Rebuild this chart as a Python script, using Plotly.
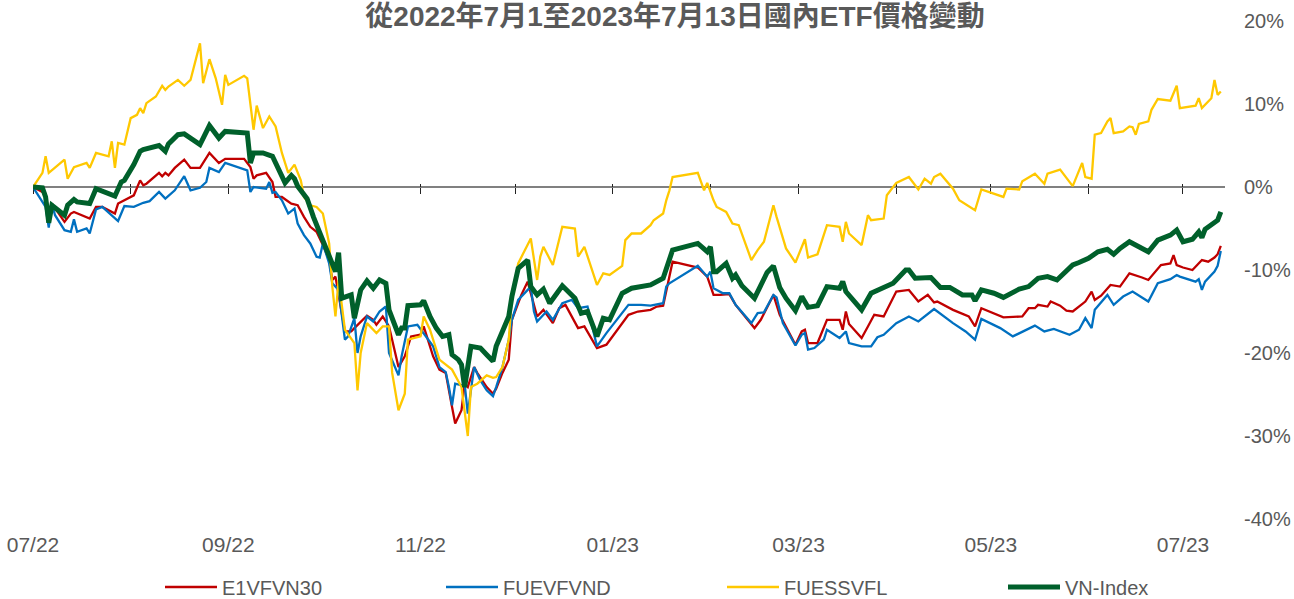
import plotly.graph_objects as go

TITLE = "從2022年7月1至2023年7月13日國內ETF價格變動"
SERIES_NAMES = ["E1VFVN30", "FUEVFVND", "FUESSVFL", "VN-Index"]
X_START = "2022-07-01"
X_END = "2023-07-14 08:00"
Y_TICK_VALS = [20, 10, 0, -10, -20, -30, -40]

E1VFVN30_DATES = [
    "2022-07-01", "2022-07-05", "2022-07-06", "2022-07-07", "2022-07-11", "2022-07-13", "2022-07-14", "2022-07-19",
    "2022-07-21", "2022-07-23", "2022-07-27", "2022-07-28",
    "2022-08-02", "2022-08-03", "2022-08-04", "2022-08-05", "2022-08-06", "2022-08-10", "2022-08-11", "2022-08-12",
    "2022-08-13", "2022-08-15", "2022-08-18", "2022-08-20", "2022-08-23", "2022-08-26", "2022-08-29", "2022-08-31",
    "2022-09-06", "2022-09-08", "2022-09-09", "2022-09-10", "2022-09-13", "2022-09-15", "2022-09-16", "2022-09-18",
    "2022-09-21", "2022-09-23", "2022-09-25", "2022-09-27", "2022-09-29",
    "2022-10-01", "2022-10-03", "2022-10-04", "2022-10-05", "2022-10-08", "2022-10-10", "2022-10-11", "2022-10-15",
    "2022-10-17", "2022-10-18", "2022-10-20", "2022-10-22", "2022-10-25", "2022-10-27", "2022-10-29",
    "2022-11-01", "2022-11-02", "2022-11-05", "2022-11-07", "2022-11-09", "2022-11-11", "2022-11-12", "2022-11-14",
    "2022-11-15", "2022-11-16", "2022-11-18", "2022-11-19", "2022-11-22", "2022-11-24", "2022-11-25", "2022-11-27",
    "2022-11-29", "2022-11-30",
    "2022-12-03", "2022-12-05", "2022-12-07", "2022-12-08", "2022-12-10", "2022-12-13", "2022-12-15", "2022-12-17",
    "2022-12-21", "2022-12-23", "2022-12-27", "2022-12-30",
    "2023-01-06", "2023-01-09", "2023-01-13", "2023-01-15", "2023-01-17", "2023-01-19", "2023-01-20", "2023-01-28",
    "2023-01-31",
    "2023-02-02", "2023-02-04", "2023-02-07", "2023-02-09", "2023-02-12", "2023-02-15", "2023-02-17", "2023-02-19",
    "2023-02-21", "2023-02-23", "2023-02-25", "2023-02-28",
    "2023-03-02", "2023-03-03", "2023-03-04", "2023-03-07", "2023-03-10", "2023-03-14", "2023-03-15", "2023-03-16",
    "2023-03-17", "2023-03-21", "2023-03-23", "2023-03-25", "2023-03-28",
    "2023-04-01", "2023-04-05", "2023-04-08", "2023-04-11", "2023-04-13", "2023-04-14", "2023-04-19", "2023-04-24",
    "2023-04-26", "2023-04-28",
    "2023-05-05", "2023-05-11", "2023-05-13", "2023-05-15", "2023-05-16", "2023-05-19", "2023-05-20", "2023-05-23",
    "2023-05-25", "2023-05-27", "2023-05-29", "2023-05-31",
    "2023-06-02", "2023-06-03", "2023-06-05", "2023-06-08", "2023-06-11", "2023-06-14", "2023-06-18", "2023-06-20",
    "2023-06-24", "2023-06-27", "2023-06-28", "2023-06-29",
    "2023-07-01", "2023-07-04", "2023-07-07", "2023-07-09", "2023-07-11", "2023-07-12", "2023-07-13",
]
E1VFVN30_VALUES = [
    0.0, -0.8, -3.2, -2.0, -4.2, -3.2, -3.0, -3.8, -2.4, -2.4, -3.2, -2.0,
    -1.0, -0.2, 0.8, 0.2, 0.4, 1.7, 1.3, 1.7, 1.4, 2.3, 3.3, 2.3, 2.3, 4.1, 2.9, 3.4,
    3.4, 2.4, 1.0, 1.4, 1.7, 0.6, -1.2, -1.2, -2.0, -2.2, -3.6, -4.8, -5.4,
    -7.0, -8.8, -11.2, -10.8, -17.4, -17.4, -17.0, -15.5, -16.0, -16.6, -15.6, -16.8, -21.7, -20.4, -18.0,
    -17.8, -16.8, -20.4, -22.0, -22.4, -26.5, -28.5, -26.9, -23.7, -24.1, -21.7, -22.4, -24.1, -24.9, -24.3,
    -22.4, -20.8, -16.0,
    -13.0, -11.4, -14.0, -15.6, -14.8, -16.4, -14.6, -14.2, -17.0, -16.8, -19.4, -19.0,
    -15.4, -15.0, -14.8, -14.4, -14.3, -11.0, -9.0, -9.7, -10.8,
    -13.0, -13.0, -12.9, -14.2, -15.6, -17.0, -16.0, -14.4, -13.0, -15.4, -16.8, -19.0,
    -17.4, -17.2, -18.8, -18.8, -16.0, -16.0, -17.2, -15.0, -16.5, -18.2, -16.8, -15.4, -15.6,
    -12.6, -12.4, -13.8, -13.0, -13.9, -13.8, -14.8, -15.6, -16.8, -14.6,
    -15.7, -15.6, -14.6, -14.6, -14.2, -14.4, -13.8, -14.3, -14.9, -15.0, -14.4, -13.8,
    -12.6, -13.6, -13.1, -11.8, -12.0, -10.4, -10.9, -11.2, -9.4, -9.2, -8.2, -9.4,
    -9.7, -10.0, -8.8, -9.0, -8.5, -8.1, -7.1,
]

FUEVFVND_DATES = [
    "2022-07-01", "2022-07-05", "2022-07-06", "2022-07-07", "2022-07-08", "2022-07-11", "2022-07-13", "2022-07-14",
    "2022-07-15", "2022-07-18", "2022-07-19", "2022-07-21", "2022-07-23", "2022-07-28", "2022-07-30",
    "2022-08-02", "2022-08-05", "2022-08-07", "2022-08-10", "2022-08-12", "2022-08-15", "2022-08-18", "2022-08-20",
    "2022-08-23", "2022-08-25", "2022-08-26", "2022-08-29", "2022-08-31",
    "2022-09-07", "2022-09-08", "2022-09-09", "2022-09-13", "2022-09-14", "2022-09-15", "2022-09-16", "2022-09-18",
    "2022-09-20", "2022-09-22", "2022-09-23", "2022-09-25", "2022-09-27", "2022-09-29", "2022-09-30",
    "2022-10-01", "2022-10-03", "2022-10-04", "2022-10-06", "2022-10-08", "2022-10-09", "2022-10-11", "2022-10-12",
    "2022-10-13", "2022-10-15", "2022-10-17", "2022-10-19", "2022-10-21", "2022-10-22", "2022-10-25", "2022-10-26",
    "2022-10-28", "2022-10-31",
    "2022-11-02", "2022-11-05", "2022-11-07", "2022-11-09", "2022-11-10", "2022-11-11", "2022-11-12", "2022-11-14",
    "2022-11-15", "2022-11-16", "2022-11-18", "2022-11-20", "2022-11-22", "2022-11-24", "2022-11-25", "2022-11-27",
    "2022-11-29", "2022-11-30",
    "2022-12-02", "2022-12-06", "2022-12-07", "2022-12-08", "2022-12-11", "2022-12-13", "2022-12-16", "2022-12-19",
    "2022-12-21", "2022-12-24", "2022-12-27", "2022-12-30",
    "2023-01-06", "2023-01-10", "2023-01-13", "2023-01-17", "2023-01-18", "2023-01-19", "2023-01-28", "2023-01-31",
    "2023-02-01", "2023-02-02", "2023-02-05", "2023-02-07", "2023-02-09", "2023-02-12", "2023-02-14", "2023-02-16",
    "2023-02-18", "2023-02-21", "2023-02-22", "2023-02-24", "2023-02-28",
    "2023-03-02", "2023-03-03", "2023-03-04", "2023-03-06", "2023-03-09", "2023-03-10", "2023-03-14", "2023-03-16",
    "2023-03-17", "2023-03-21", "2023-03-24", "2023-03-26", "2023-03-28",
    "2023-04-01", "2023-04-05", "2023-04-08", "2023-04-13", "2023-04-19", "2023-04-23", "2023-04-26", "2023-04-28",
    "2023-05-04", "2023-05-08", "2023-05-11", "2023-05-15", "2023-05-18", "2023-05-21", "2023-05-26", "2023-05-29",
    "2023-05-31",
    "2023-06-02", "2023-06-03", "2023-06-07", "2023-06-09", "2023-06-12", "2023-06-15", "2023-06-20", "2023-06-23",
    "2023-06-27", "2023-06-29", "2023-06-30",
    "2023-07-05", "2023-07-06", "2023-07-07", "2023-07-08", "2023-07-11", "2023-07-12", "2023-07-13",
]
FUEVFVND_VALUES = [
    0.0, -2.4, -4.9, -2.0, -3.4, -5.2, -5.4, -3.9, -5.4, -5.0, -5.6, -2.7, -2.4, -4.1, -2.3,
    -2.4, -1.9, -1.7, -0.6, -1.4, -0.4, 1.3, -0.4, -0.1, 0.6, 2.3, 1.8, 2.9,
    2.0, -0.6, 0.0, -0.2, 0.6, -0.7, -0.6, -1.6, -3.2, -2.6, -4.4, -5.8, -6.8, -8.4, -8.5,
    -6.8, -9.2, -11.6, -12.4, -18.4, -18.0, -15.8, -20.0, -18.0, -15.6, -16.2, -15.0, -14.4, -20.0, -22.7, -20.4,
    -16.8, -16.6,
    -17.6, -19.2, -21.7, -22.3, -24.1, -26.3, -23.7, -23.9, -23.7, -27.3, -21.7, -23.3, -24.5, -25.2, -24.1, -21.7,
    -18.4, -16.0,
    -13.6, -12.0, -15.0, -16.2, -15.0, -16.0, -14.0, -13.6, -14.6, -14.4, -19.2, -17.6,
    -14.2, -14.2, -14.3, -14.0, -12.0, -11.6, -9.5, -10.8,
    -10.2, -12.2, -12.8, -12.8, -14.2, -15.6, -16.4, -15.2, -15.1, -13.0, -13.3, -16.4, -19.1,
    -17.8, -17.6, -19.6, -19.4, -18.4, -17.2, -18.2, -17.4, -18.8, -19.2, -19.2, -18.1, -17.8,
    -16.4, -15.6, -16.2, -14.7, -16.4, -17.4, -18.4, -15.9,
    -17.0, -18.0, -17.4, -16.7, -17.4, -17.1, -17.8, -17.2, -15.8,
    -17.0, -14.8, -13.0, -14.2, -13.2, -12.6, -13.8, -11.6, -11.1, -10.6, -10.8,
    -11.4, -11.1, -12.4, -11.4, -10.2, -9.5, -7.7,
]

FUESSVFL_DATES = [
    "2022-07-01", "2022-07-04", "2022-07-05", "2022-07-06", "2022-07-11", "2022-07-12", "2022-07-14", "2022-07-18",
    "2022-07-19", "2022-07-21", "2022-07-25", "2022-07-26", "2022-07-27", "2022-07-28", "2022-07-30",
    "2022-08-01", "2022-08-03", "2022-08-04", "2022-08-05", "2022-08-06", "2022-08-09", "2022-08-11", "2022-08-12",
    "2022-08-13", "2022-08-16", "2022-08-18", "2022-08-20", "2022-08-23", "2022-08-24", "2022-08-26", "2022-08-28",
    "2022-08-30", "2022-08-31",
    "2022-09-01", "2022-09-06", "2022-09-07", "2022-09-09", "2022-09-10", "2022-09-12", "2022-09-14", "2022-09-16",
    "2022-09-18", "2022-09-20", "2022-09-22", "2022-09-24", "2022-09-25", "2022-09-27", "2022-09-29",
    "2022-10-01", "2022-10-03", "2022-10-04", "2022-10-05", "2022-10-06", "2022-10-08", "2022-10-11", "2022-10-12",
    "2022-10-13", "2022-10-15", "2022-10-18", "2022-10-20", "2022-10-22", "2022-10-23", "2022-10-25", "2022-10-27",
    "2022-10-28", "2022-10-30",
    "2022-11-01", "2022-11-02", "2022-11-04", "2022-11-07", "2022-11-11", "2022-11-14", "2022-11-16", "2022-11-17",
    "2022-11-19", "2022-11-22", "2022-11-24", "2022-11-25", "2022-11-27", "2022-11-29", "2022-11-30",
    "2022-12-02", "2022-12-06", "2022-12-08", "2022-12-09", "2022-12-10", "2022-12-13", "2022-12-16", "2022-12-20",
    "2022-12-21", "2022-12-23", "2022-12-27", "2022-12-29", "2022-12-31",
    "2023-01-04", "2023-01-05", "2023-01-07", "2023-01-10", "2023-01-13", "2023-01-14", "2023-01-17", "2023-01-18",
    "2023-01-19", "2023-01-20", "2023-01-28", "2023-01-30", "2023-01-31",
    "2023-02-02", "2023-02-03", "2023-02-06", "2023-02-08", "2023-02-10", "2023-02-14", "2023-02-16", "2023-02-18",
    "2023-02-21", "2023-02-22", "2023-02-25", "2023-02-28",
    "2023-03-03", "2023-03-04", "2023-03-07", "2023-03-10", "2023-03-14", "2023-03-15", "2023-03-16", "2023-03-17",
    "2023-03-21", "2023-03-23", "2023-03-24", "2023-03-28", "2023-03-29",
    "2023-04-01", "2023-04-05", "2023-04-08", "2023-04-10", "2023-04-12", "2023-04-13", "2023-04-15", "2023-04-19",
    "2023-04-21", "2023-04-26", "2023-04-28",
    "2023-05-05", "2023-05-06", "2023-05-10", "2023-05-11", "2023-05-15", "2023-05-18", "2023-05-19", "2023-05-23",
    "2023-05-27", "2023-05-30", "2023-05-31",
    "2023-06-02", "2023-06-03", "2023-06-05", "2023-06-07", "2023-06-08", "2023-06-09", "2023-06-12", "2023-06-14",
    "2023-06-15", "2023-06-16", "2023-06-17", "2023-06-20", "2023-06-21", "2023-06-23", "2023-06-27", "2023-06-29",
    "2023-06-30",
    "2023-07-05", "2023-07-06", "2023-07-07", "2023-07-10", "2023-07-11", "2023-07-12", "2023-07-13",
]
FUESSVFL_VALUES = [
    0.0, 1.7, 3.7, 1.7, 3.3, 1.0, 2.4, 2.9, 2.3, 4.1, 3.7, 5.5, 2.3, 5.3, 5.1,
    8.3, 8.7, 9.5, 8.9, 10.1, 10.9, 12.2, 11.7, 12.1, 12.9, 12.2, 12.9, 17.3, 12.5, 15.4, 13.1, 9.9, 13.5,
    12.3, 13.4, 13.1, 6.9, 9.8, 7.1, 8.5, 7.3, 4.1, 1.7, 2.7, 0.8, -1.2, -2.2, -2.4,
    -3.2, -6.8, -12.0, -15.6, -11.2, -17.2, -18.8, -24.5, -20.0, -16.4, -17.6, -16.8, -16.8, -22.4, -26.9, -24.9,
    -18.4, -18.2,
    -18.0, -15.6, -17.2, -20.8, -22.0, -24.1, -30.0, -24.1, -23.7, -22.7, -23.0, -22.9, -21.7, -18.4, -13.2,
    -9.2, -6.2, -11.2, -8.4, -7.2, -9.4, -4.8, -5.0, -8.4, -7.2, -11.8, -10.4, -10.6,
    -9.5, -6.4, -5.6, -5.6, -4.6, -4.0, -3.2, -1.6, -0.4, 1.2, 1.7, -0.4, 0.5,
    -1.6, -2.4, -3.0, -4.4, -4.6, -8.8, -7.6, -6.6, -2.2, -3.6, -7.4, -9.1,
    -6.3, -8.5, -8.1, -4.6, -4.8, -6.6, -4.2, -5.6, -7.0, -3.4, -4.0, -3.8, -1.0,
    0.5, 1.2, -0.3, 1.0, 0.4, 1.2, 1.6, -0.2, -1.6, -2.8, -0.3,
    -1.2, -0.2, -0.3, 0.7, 1.6, 0.4, 1.6, 2.1, 0.1, 2.9, 1.2,
    1.0, 6.3, 6.5, 7.9, 8.3, 6.5, 6.7, 7.3, 7.2, 6.3, 7.6, 7.9, 9.3, 10.6, 10.4, 12.2, 9.5,
    9.8, 10.7, 9.5, 10.7, 12.9, 11.1, 11.5,
]

VNINDEX_DATES = [
    "2022-07-01", "2022-07-04", "2022-07-05", "2022-07-06", "2022-07-07", "2022-07-08", "2022-07-11", "2022-07-12",
    "2022-07-14", "2022-07-15", "2022-07-19", "2022-07-21", "2022-07-24", "2022-07-27", "2022-07-29", "2022-07-30",
    "2022-08-02", "2022-08-04", "2022-08-05", "2022-08-10", "2022-08-12", "2022-08-13", "2022-08-16", "2022-08-18",
    "2022-08-23", "2022-08-26", "2022-08-29", "2022-08-31",
    "2022-09-07", "2022-09-08", "2022-09-09", "2022-09-12", "2022-09-15", "2022-09-19", "2022-09-21", "2022-09-22",
    "2022-09-23", "2022-09-26", "2022-09-28", "2022-09-30",
    "2022-10-01", "2022-10-03", "2022-10-05", "2022-10-06", "2022-10-07", "2022-10-10", "2022-10-11", "2022-10-13",
    "2022-10-15", "2022-10-17", "2022-10-19", "2022-10-21", "2022-10-22", "2022-10-25", "2022-10-26", "2022-10-27",
    "2022-10-28",
    "2022-11-01", "2022-11-02", "2022-11-04", "2022-11-06", "2022-11-08", "2022-11-10", "2022-11-11", "2022-11-13",
    "2022-11-14", "2022-11-15", "2022-11-17", "2022-11-20", "2022-11-22", "2022-11-24", "2022-11-25", "2022-11-27",
    "2022-11-29", "2022-11-30",
    "2022-12-02", "2022-12-05", "2022-12-06", "2022-12-08", "2022-12-10", "2022-12-12", "2022-12-16", "2022-12-20",
    "2022-12-22", "2022-12-24", "2022-12-27", "2022-12-29", "2022-12-31",
    "2023-01-04", "2023-01-07", "2023-01-13", "2023-01-17", "2023-01-20", "2023-01-28", "2023-01-31",
    "2023-02-01", "2023-02-02", "2023-02-03", "2023-02-06", "2023-02-08", "2023-02-09", "2023-02-11", "2023-02-15",
    "2023-02-17", "2023-02-19", "2023-02-21", "2023-02-23", "2023-02-25", "2023-02-28",
    "2023-03-02", "2023-03-04", "2023-03-07", "2023-03-10", "2023-03-14", "2023-03-15", "2023-03-16", "2023-03-21",
    "2023-03-24", "2023-03-31",
    "2023-04-04", "2023-04-05", "2023-04-07", "2023-04-12", "2023-04-15", "2023-04-18", "2023-04-22", "2023-04-25",
    "2023-04-26", "2023-04-28",
    "2023-05-02", "2023-05-05", "2023-05-10", "2023-05-13", "2023-05-16", "2023-05-19", "2023-05-22", "2023-05-25",
    "2023-05-27", "2023-05-29",
    "2023-06-01", "2023-06-04", "2023-06-07", "2023-06-09", "2023-06-11", "2023-06-14", "2023-06-20", "2023-06-23",
    "2023-06-27", "2023-06-29",
    "2023-07-01", "2023-07-04", "2023-07-06", "2023-07-07", "2023-07-08", "2023-07-12", "2023-07-13",
]
VNINDEX_VALUES = [
    0.0, -0.1, -1.2, -4.3, -2.2, -2.5, -3.4, -2.2, -1.5, -1.8, -2.0, -0.2, -0.6, -1.1, 0.6, 0.8,
    2.7, 4.3, 4.5, 5.0, 4.3, 5.2, 6.3, 6.4, 5.1, 7.4, 5.9, 6.7,
    6.5, 2.9, 4.1, 4.1, 3.7, 0.5, 1.4, 1.0, 0.1, -1.4, -3.6, -5.6,
    -6.6, -8.4, -10.2, -7.9, -13.4, -13.0, -15.8, -12.4, -11.3, -12.2, -11.2, -11.6, -14.8, -17.8, -17.0, -17.0,
    -14.3,
    -14.2, -13.7, -15.6, -17.0, -18.0, -17.8, -20.2, -20.8, -21.4, -24.1, -19.2, -19.4, -20.2, -21.0, -19.2, -17.2,
    -15.6, -13.2,
    -9.8, -8.8, -12.0, -13.0, -12.3, -14.0, -11.9, -13.4, -15.2, -15.0, -18.0, -15.8, -16.0,
    -12.8, -12.2, -11.8, -11.0, -7.6, -6.8, -7.8,
    -7.2, -10.2, -10.2, -9.2, -11.0, -10.6, -11.9, -13.4, -11.8, -10.3, -9.5, -12.1, -13.4, -14.9,
    -13.2, -14.5, -14.3, -12.0, -12.2, -11.4, -12.6, -14.8, -12.8, -11.6,
    -10.0, -10.0, -11.0, -10.9, -12.1, -12.1, -13.0, -13.0, -13.7, -12.4,
    -12.8, -13.3, -12.3, -12.0, -11.0, -10.8, -11.2, -10.0, -9.4, -9.1,
    -8.6, -7.8, -7.5, -8.1, -7.4, -6.6, -7.8, -6.4, -5.8, -5.2,
    -6.6, -6.3, -5.4, -6.1, -5.1, -4.0, -3.0,
]

COLORS = ["#C00000", "#0070C0", "#FFC800", "#00602B"]
WIDTHS = [2.3, 2.3, 2.3, 5.0]
TEXT_COLOR = "#595959"
FONT = "Liberation Sans, Arial, Noto Sans CJK TC, sans-serif"

series = [
    (SERIES_NAMES[0], E1VFVN30_DATES, E1VFVN30_VALUES),
    (SERIES_NAMES[1], FUEVFVND_DATES, FUEVFVND_VALUES),
    (SERIES_NAMES[2], FUESSVFL_DATES, FUESSVFL_VALUES),
    (SERIES_NAMES[3], VNINDEX_DATES, VNINDEX_VALUES),
]

fig = go.Figure()
for (name, dates, vals), color, width in zip(series, COLORS, WIDTHS):
    assert len(dates) == len(vals), (name, len(dates), len(vals))
    fig.add_trace(go.Scatter(
        x=dates, y=vals, name=name, mode="lines",
        line=dict(color=color, width=width),
        xaxis="x", yaxis="y", hoverinfo="skip",
    ))

# invisible helpers so the overlay axes are drawn
for ax in ["x2", "x3"]:
    fig.add_trace(go.Scatter(
        x=[X_START], y=[0], xaxis=ax, yaxis="y", mode="markers",
        marker=dict(size=1, opacity=0), showlegend=False, hoverinfo="skip",
    ))

tick_font = dict(family=FONT, size=21, color=TEXT_COLOR)
ytick_font = dict(family=FONT, size=20, color=TEXT_COLOR)
legend_font = dict(family=FONT, size=20, color=TEXT_COLOR)
zero_pos = (0 - (-40)) / (20 - (-40))

fig.update_layout(
    width=1294, height=599,
    margin=dict(l=33, r=69, t=21, b=80, autoexpand=False),
    paper_bgcolor="white", plot_bgcolor="white",
    title=dict(
        text="<b>" + TITLE + "</b>",
        x=675 / 1294, xref="container", xanchor="center",
        y=1 - 16 / 599, yref="container", yanchor="middle",
        font=dict(family=FONT, size=28, color=TEXT_COLOR),
    ),
    xaxis=dict(
        type="date", range=[X_START, X_END], anchor="free", position=zero_pos,
        showline=True, linecolor="#808080", linewidth=1.5,
        ticks="outside", ticklen=6, tickwidth=1, tickcolor="#222222",
        dtick="M1", tick0=X_START, showticklabels=False,
        showgrid=False, zeroline=False, layer="below traces", automargin=False,
    ),
    xaxis3=dict(
        type="date", range=[X_START, X_END], overlaying="x", anchor="free", position=zero_pos,
        showline=False, ticks="inside", ticklen=3, tickwidth=1, tickcolor="#222222",
        dtick="M1", tick0=X_START, showticklabels=False,
        showgrid=False, zeroline=False, layer="below traces", automargin=False,
    ),
    xaxis2=dict(
        type="date", range=[X_START, X_END], overlaying="x", anchor="y", side="bottom",
        dtick="M2", tick0=X_START, tickformat="%m/%y",
        ticks="outside", ticklen=7, tickcolor="rgba(0,0,0,0)",
        showline=False, showgrid=False, zeroline=False, tickfont=tick_font, automargin=False,
    ),
    yaxis=dict(
        side="right", range=[-40, 20],
        tickvals=Y_TICK_VALS, ticktext=[f"{v}%" for v in Y_TICK_VALS],
        ticks="outside", ticklen=14, tickcolor="rgba(0,0,0,0)",
        showline=False, showgrid=False, zeroline=False, tickfont=ytick_font, automargin=False,
    ),
    legend=dict(
        orientation="h", xref="container", x=160 / 1294, xanchor="left",
        yref="container", y=1 - 587 / 599, yanchor="middle",
        itemwidth=52, entrywidth=214, entrywidthmode="pixels",
        font=legend_font, bgcolor="rgba(0,0,0,0)",
    ),
    showlegend=True,
)

fig.write_html(
    "out.html",
    config={"displayModeBar": False},
    post_script="document.body.style.margin='0px';document.body.style.overflow='hidden';",
)
